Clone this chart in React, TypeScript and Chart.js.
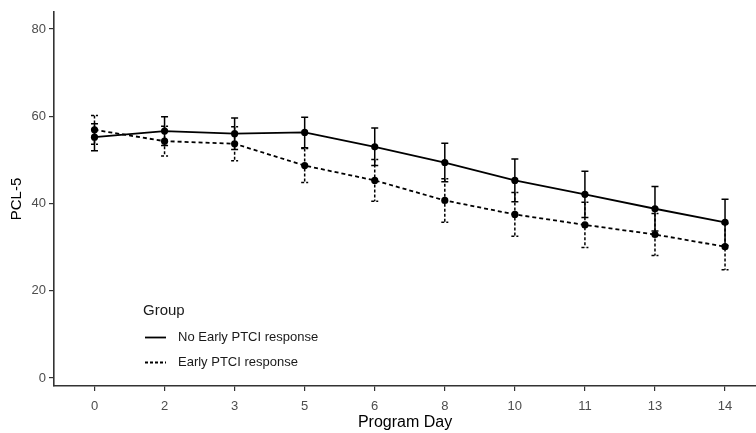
import React, { useEffect, useRef } from "react";
import { Chart, registerables } from "chart.js";

Chart.register(...registerables);

const days = ["0", "2", "3", "5", "6", "8", "10", "11", "13", "14"];
const noEarly = [55.2, 56.6, 56.0, 56.3, 53.0, 49.4, 45.3, 42.1, 38.8, 35.7];
const noEarlyErr = [3.1, 3.3, 3.6, 3.5, 4.3, 4.4, 4.9, 5.3, 5.1, 5.3];
const early = [56.9, 54.3, 53.7, 48.7, 45.3, 40.7, 37.5, 35.1, 32.9, 30.1];
const earlyErr = [3.3, 3.4, 3.9, 3.9, 4.8, 5.0, 5.0, 5.2, 4.8, 5.3];
const yTicks = [0, 20, 40, 60, 80];
const legendTitle = "Group";
const seriesNames = ["No Early PTCI response", "Early PTCI response"];

const FONT = "'Liberation Sans', Arial, Helvetica, sans-serif";

const errorBarPlugin = {
  id: "errorBars",
  beforeDatasetsDraw(chart: any) {
    const { ctx } = chart;
    const xs = chart.scales.x;
    const ys = chart.scales.y;
    const sets = [
      { m: noEarly, e: noEarlyErr, dash: [] as number[] },
      { m: early, e: earlyErr, dash: [3, 2] },
    ];
    ctx.save();
    ctx.strokeStyle = "#000";
    ctx.lineWidth = 1.5;
    sets.forEach((s) => {
      ctx.setLineDash(s.dash);
      s.m.forEach((v, i) => {
        const px = xs.getPixelForValue(i);
        const top = ys.getPixelForValue(v + s.e[i]);
        const bot = ys.getPixelForValue(v - s.e[i]);
        ctx.beginPath();
        ctx.moveTo(px, top);
        ctx.lineTo(px, bot);
        ctx.moveTo(px - 3.5, top);
        ctx.lineTo(px + 3.5, top);
        ctx.moveTo(px - 3.5, bot);
        ctx.lineTo(px + 3.5, bot);
        ctx.stroke();
      });
    });
    ctx.restore();
  },
};

const legendPlugin = {
  id: "customLegend",
  afterDraw(chart: any) {
    const { ctx } = chart;
    ctx.save();
    ctx.fillStyle = "#1a1a1a";
    ctx.font = `15px ${FONT}`;
    ctx.textBaseline = "alphabetic";
    ctx.textAlign = "left";
    ctx.fillText(legendTitle, 143, 315);
    const rows = [
      { y: 337.5, dash: [] as number[] },
      { y: 362.5, dash: [3, 2] },
    ];
    ctx.font = `13px ${FONT}`;
    ctx.textBaseline = "middle";
    rows.forEach((r, i) => {
      ctx.strokeStyle = "#000";
      ctx.lineWidth = 1.8;
      ctx.setLineDash(r.dash);
      ctx.beginPath();
      ctx.moveTo(145, r.y);
      ctx.lineTo(166, r.y);
      ctx.stroke();
      ctx.setLineDash([]);
      ctx.fillText(seriesNames[i], 178, r.y);
    });
    ctx.restore();
  },
};

export default function App() {
  const ref = useRef<HTMLCanvasElement | null>(null);
  useEffect(() => {
    if (!ref.current) return;
    const chart = new Chart(ref.current, {
      type: "line",
      data: {
        datasets: [
          {
            label: seriesNames[0],
            data: noEarly.map((v, i) => ({ x: i, y: v })),
            borderColor: "#000",
            backgroundColor: "#000",
            borderWidth: 1.8,
            pointRadius: 3.6,
            pointBackgroundColor: "#000",
            pointBorderWidth: 0,
            tension: 0,
          },
          {
            label: seriesNames[1],
            data: early.map((v, i) => ({ x: i, y: v })),
            borderColor: "#000",
            backgroundColor: "#000",
            borderWidth: 1.8,
            borderDash: [4, 3],
            pointRadius: 3.6,
            pointBackgroundColor: "#000",
            pointBorderWidth: 0,
            tension: 0,
          },
        ],
      },
      options: {
        animation: false,
        responsive: false,
        layout: { padding: { top: 12, right: 0, left: 0, bottom: 0 } },
        plugins: { legend: { display: false }, tooltip: { enabled: false } },
        scales: {
          x: {
            type: "linear",
            min: -0.578,
            max: 9.442,
            afterBuildTicks: (s: any) => {
              s.ticks = days.map((_, i) => ({ value: i }));
            },
            afterFit: (s: any) => {
              s.height = 47;
            },
            ticks: {
              autoSkip: false,
              maxRotation: 0,
              color: "#4d4d4d",
              font: { family: FONT, size: 13 },
              padding: 8,
              callback: (v: any) => days[Math.round(Number(v))] ?? "",
            },
            grid: {
              display: true,
              drawOnChartArea: false,
              drawTicks: true,
              tickLength: 5,
              color: "#333",
              lineWidth: 1.2,
            },
            border: { display: true, color: "#333", width: 1.6 },
            title: {
              display: true,
              text: "Program Day",
              color: "#000",
              font: { family: FONT, size: 16 },
              padding: { top: 0, bottom: 1 },
            },
          },
          y: {
            type: "linear",
            min: -1.83,
            max: 83.9,
            afterBuildTicks: (s: any) => {
              s.ticks = yTicks.map((v) => ({ value: v }));
            },
            afterFit: (s: any) => {
              s.width = 54;
            },
            ticks: {
              color: "#4d4d4d",
              font: { family: FONT, size: 13 },
              padding: 3,
            },
            grid: {
              display: true,
              drawOnChartArea: false,
              drawTicks: true,
              tickLength: 5,
              color: "#333",
              lineWidth: 1.2,
            },
            border: { display: true, color: "#333", width: 1.6 },
            title: {
              display: true,
              text: "PCL-5",
              color: "#000",
              font: { family: FONT, size: 15 },
              padding: { top: 8, bottom: 0 },
            },
          },
        },
      },
      plugins: [errorBarPlugin, legendPlugin],
    } as any);
    return () => chart.destroy();
  }, []);
  return (
    <div
      style={{
        position: "fixed",
        left: 0,
        top: 0,
        width: 756,
        height: 433,
        overflow: "hidden",
        background: "#fff",
      }}
    >
      <canvas ref={ref} width={760} height={433} style={{ display: "block" }} />
    </div>
  );
}
